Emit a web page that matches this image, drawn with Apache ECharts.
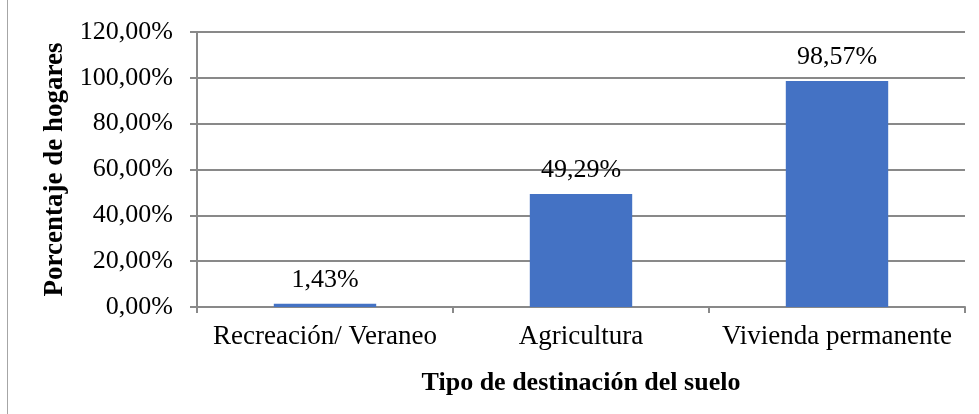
<!DOCTYPE html>
<html>
<head>
<meta charset="utf-8">
<script src="https://cdn.jsdelivr.net/npm/echarts@6/dist/echarts.min.js"></script>
<style>
  html, body { margin: 0; padding: 0; background: #fff; }
  #chart { width: 979px; height: 414px; }
  .frame { position: absolute; left: 7px; top: 0; width: 1px; height: 414px; background: #a6a6a6; }
</style>
</head>
<body>
<div class="frame"></div>
<div id="chart"></div>
<script>
// categorias y valores (porcentaje de hogares)
const categories = ['Recreación/ Veraneo', 'Agricultura', 'Vivienda permanente'];
const values = [1.43, 49.29, 98.57];
const yTicks = [0, 20, 40, 60, 80, 100, 120];

const fmt = v => v.toFixed(2).replace('.', ',') + '%';
const font = '"Liberation Serif", "Times New Roman", serif';
const gray = '#898989';

let myChart = echarts.init(document.getElementById('chart'));
let option = {
  animation: false,
  grid: { left: 197, right: 14, top: 32, bottom: 107 },
  xAxis: {
    type: 'category',
    data: categories,
    name: 'Tipo de destinación del suelo',
    nameLocation: 'middle',
    nameGap: 63,
    nameTextStyle: { fontFamily: font, fontSize: 26, fontWeight: 'bold', color: '#000' },
    axisLine: { lineStyle: { color: gray, width: 2 } },
    axisTick: { show: true, length: 6, lineStyle: { color: gray, width: 2 } },
    axisLabel: { fontFamily: font, fontSize: 27, color: '#000', margin: 16, interval: 0 }
  },
  yAxis: {
    type: 'value',
    min: yTicks[0],
    max: yTicks[yTicks.length - 1],
    interval: 20,
    name: 'Porcentaje de hogares',
    nameLocation: 'middle',
    nameGap: 118,
    nameTextStyle: { fontFamily: font, fontSize: 27, fontWeight: 'bold', color: '#000' },
    axisLine: { show: true, lineStyle: { color: gray, width: 2 } },
    axisTick: { show: true, length: 7, lineStyle: { color: gray, width: 2 } },
    axisLabel: { fontFamily: font, fontSize: 26, color: '#000', margin: 24, formatter: fmt },
    splitLine: { lineStyle: { color: gray, width: 2 } }
  },
  series: [{
    type: 'bar',
    data: values,
    barWidth: '40%',
    itemStyle: { color: '#4472C4' },
    label: {
      show: true,
      position: 'top',
      distance: 11,
      fontFamily: font,
      fontSize: 26,
      color: '#000',
      formatter: p => fmt(p.value)
    }
  }]
};
myChart.setOption(option);
</script>
</body>
</html>
